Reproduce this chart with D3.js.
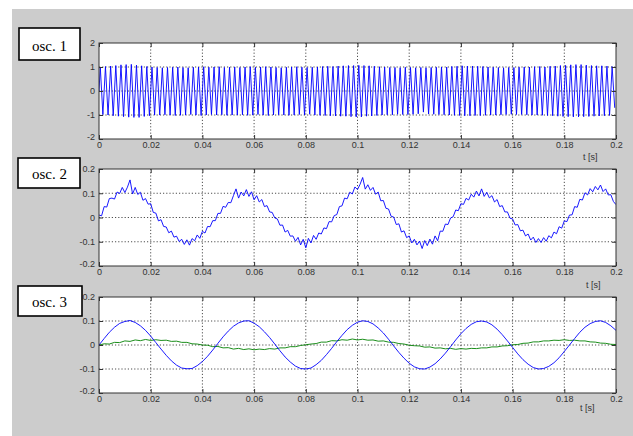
<!DOCTYPE html>
<html>
<head>
<meta charset="utf-8">
<script src="https://cdn.jsdelivr.net/npm/d3@7"></script>
<style>
body { margin: 0; background: #fff; }
svg { display: block; }
.tick text { font-family: "Liberation Sans", Arial, sans-serif; font-size: 9px; fill: #333; }
</style>
</head>
<body>
<svg></svg>
<script>
// time axis (s)
const xTicks = [0, 0.02, 0.04, 0.06, 0.08, 0.1, 0.12, 0.14, 0.16, 0.18, 0.2];
const xTickLabels = ["0", "0.02", "0.04", "0.06", "0.08", "0.1", "0.12", "0.14", "0.16", "0.18", "0.2"];
const y1Ticks = [-2, -1, 0, 1, 2];
const y1TickLabels = ["-2", "-1", "0", "1", "2"];
const y23Ticks = [-0.2, -0.1, 0, 0.1, 0.2];
const y23TickLabels = ["-0.2", "-0.1", "0", "0.1", "0.2"];
const panelNames = ["osc. 1", "osc. 2", "osc. 3"];
const unitLabel = "t [s]";

// osc. 1 : peaks and troughs, one every 0.001 s starting at 0.0005 s
const osc1Start = 0.0005;
const osc1Step = 0.001;
const osc1Extrema = [
  1.0,-0.98,1.02,-1.0,1.04,-1.03,1.06,-1.05,1.09,-1.07,1.1,-1.09,1.11,-1.1,1.08,-1.1,1.05,-1.06,1.02,-1.03,
  1.0,-1.0,0.98,-1.0,0.97,-0.99,0.98,-1.0,0.99,-1.02,1.0,-1.01,0.98,-1.0,0.97,-0.98,0.99,-1.0,1.0,-1.02,
  1.01,-1.0,0.99,-0.98,1.0,-1.0,1.01,-0.99,0.98,-1.01,0.99,-1.0,1.0,-1.0,0.98,-0.99,1.0,-1.01,1.01,-1.0,
  0.99,-0.98,1.0,-1.0,1.01,-1.02,1.0,-1.0,0.98,-0.99,0.97,-1.0,0.99,-1.01,1.0,-1.0,1.01,-0.98,0.99,-1.0,
  0.98,-0.97,0.99,-1.0,1.0,-1.01,1.02,-1.02,1.03,-1.03,1.02,-1.04,1.04,-1.05,1.05,-1.05,1.06,-1.07,1.06,-1.08,
  1.07,-1.08,1.06,-1.05,1.05,-1.04,1.03,-1.02,1.01,-1.0,1.0,-0.99,0.98,-0.99,0.98,-0.97,0.97,-0.98,0.99,-0.98,
  0.98,-0.97,0.97,-0.95,0.98,-0.88,0.97,-0.96,0.98,-0.97,0.99,-0.98,1.0,-0.99,1.0,-1.0,1.02,-1.01,1.03,-1.02,
  1.05,-1.03,1.04,-1.03,1.04,-1.02,1.03,-1.02,1.02,-1.01,1.0,-1.0,0.99,-1.0,0.98,-0.99,0.97,-0.98,0.98,-0.97,
  0.98,-0.98,0.99,-0.98,1.0,-0.99,1.0,-1.0,1.01,-1.0,1.02,-1.01,1.0,-1.02,1.03,-1.03,1.04,-1.05,1.06,-1.06,
  1.07,-1.07,1.09,-1.08,1.1,-1.08,1.1,-1.07,1.08,-1.06,1.06,-1.05,1.05,-1.04,1.05,-1.03,1.04,-1.02,1.02,-0.7
];

// osc. 2 : sampled every 0.001 s
const osc2Step = 0.001;
const osc2 = [
  0.010,0.007,0.045,0.043,0.078,0.080,0.076,0.105,0.099,0.124,0.103,0.125,0.155,0.097,0.124,0.095,0.104,0.071,0.078,0.055,0.057,0.021,0.018,
  -0.014,-0.009,-0.037,-0.039,-0.063,-0.056,-0.081,-0.077,-0.099,-0.090,-0.111,-0.092,-0.114,-0.087,-0.096,-0.072,-0.086,-0.057,-0.064,-0.037,-0.038,-0.013,-0.013,
  0.017,0.017,0.046,0.042,0.062,0.061,0.090,0.118,0.080,0.105,0.089,0.115,0.087,0.106,0.073,0.090,0.064,0.074,0.045,0.049,0.023,0.021,-0.002,
  -0.006,-0.032,-0.031,-0.060,-0.053,-0.077,-0.076,-0.098,-0.082,-0.113,-0.090,-0.125,-0.086,-0.105,-0.074,-0.090,-0.064,-0.068,-0.043,-0.046,-0.017,-0.018,
  0.008,0.012,0.045,0.048,0.080,0.077,0.104,0.097,0.126,0.115,0.137,0.165,0.117,0.135,0.112,0.124,0.096,0.105,0.069,0.070,0.038,0.035,0.005,
  0.002,-0.029,-0.026,-0.060,-0.055,-0.083,-0.076,-0.105,-0.090,-0.113,-0.097,-0.128,-0.095,-0.116,-0.089,-0.110,-0.076,-0.096,-0.056,-0.057,-0.027,-0.029,-0.002,
  0.003,0.031,0.028,0.057,0.054,0.079,0.072,0.096,0.084,0.109,0.089,0.118,0.087,0.104,0.081,0.090,0.064,0.074,0.045,0.049,0.023,0.023,
  -0.003,-0.006,-0.031,-0.029,-0.055,-0.052,-0.076,-0.068,-0.093,-0.081,-0.103,-0.087,-0.103,-0.083,-0.098,-0.075,-0.084,-0.060,-0.067,-0.038,-0.044,-0.014,-0.017,
  0.010,0.011,0.045,0.042,0.075,0.072,0.102,0.093,0.119,0.106,0.128,0.114,0.134,0.107,0.118,0.093,0.094,0.066,0.053
];

// osc. 3 : two signals sampled every 0.002 s
const osc3Step = 0.002;
const osc3Blue = [
  0,0.027,0.053,0.074,0.090,0.098,0.102,0.094,0.080,0.061,
  0.037,0.010,-0.017,-0.043,-0.066,-0.084,-0.096,-0.099,-0.098,-0.086,
  -0.069,-0.047,-0.021,0.007,0.034,0.058,0.078,0.092,0.100,0.101,
  0.091,0.076,0.055,0.031,0.004,-0.024,-0.050,-0.071,-0.088,-0.098,
  -0.100,-0.096,-0.082,-0.064,-0.040,-0.014,0.014,0.040,0.064,0.082,
  0.095,0.101,0.098,0.088,0.071,0.050,0.024,-0.004,-0.031,-0.055,
  -0.076,-0.091,-0.099,-0.100,-0.092,-0.078,-0.058,-0.034,-0.007,0.021,
  0.047,0.069,0.086,0.097,0.100,0.096,0.084,0.066,0.043,0.017,
  -0.010,-0.037,-0.061,-0.080,-0.094,-0.100,-0.098,-0.089,-0.074,-0.053,
  -0.027,0,0.027,0.053,0.074,0.089,0.098,0.101,0.094,0.080,
  0.061
];
const osc3Green = [
  0.000,0.005,0.004,0.011,0.010,0.017,0.015,0.021,0.018,0.023,0.019,0.022,0.019,0.020,0.015,0.016,0.011,0.011,0.005,0.004,0.000,
  -0.001,-0.007,-0.006,-0.012,-0.011,-0.017,-0.014,-0.019,-0.016,-0.020,-0.017,-0.019,-0.015,-0.017,-0.012,-0.012,-0.007,-0.007,-0.002,0.001,
  0.004,0.006,0.012,0.012,0.018,0.017,0.022,0.020,0.025,0.021,0.024,0.020,0.021,0.016,0.017,0.012,0.011,0.006,0.004,-0.001,
  -0.003,-0.004,-0.009,-0.008,-0.013,-0.012,-0.016,-0.014,-0.018,-0.015,-0.017,-0.014,-0.015,-0.012,-0.012,-0.008,-0.008,-0.004,-0.003,0.001,
  0.002,0.007,0.008,0.013,0.013,0.017,0.017,0.020,0.019,0.022,0.019,0.020,0.017,0.017,0.013,0.012,0.008,0.007,0.003,0.002
];

const width = 633;
const height = 436;
const svg = d3.select("svg")
    .attr("width", width)
    .attr("height", height);

// figure background
svg.append("rect")
    .attr("x", 12).attr("y", 9)
    .attr("width", width - 12).attr("height", height - 9)
    .attr("fill", "#cccccc");

const x = d3.scaleLinear().domain([0, 0.2]).range([99, 616]);

const osc1Points = [[0, 0]].concat(osc1Extrema.map((v, i) => [osc1Start + i * osc1Step, v]));
const osc2Points = osc2.map((v, i) => [i * osc2Step, v]);
const osc3BluePoints = osc3Blue.map((v, i) => [i * osc3Step, v]);
const osc3GreenPoints = osc3Green.map((v, i) => [i * osc3Step, v]);

const panels = [
  { top: 43, bottom: 139, domain: [-2, 2], ticks: y1Ticks, labels: y1TickLabels,
    box: [19, 28, 61, 32], textY: 51, unit: [583, 160],
    series: [{ pts: osc1Points, color: "#0000ff" }] },
  { top: 169, bottom: 266, domain: [-0.2, 0.2], ticks: y23Ticks, labels: y23TickLabels,
    box: [18, 158, 62, 30], textY: 179, unit: [586, 288],
    series: [{ pts: osc2Points, color: "#0000ff" }] },
  { top: 297, bottom: 393, domain: [-0.2, 0.2], ticks: y23Ticks, labels: y23TickLabels,
    box: [18, 286, 64, 30], textY: 307, unit: [580, 411],
    series: [{ pts: osc3GreenPoints, color: "#008000" }, { pts: osc3BluePoints, color: "#0000ff" }] }
];

panels.forEach((p, pi) => {
    const y = d3.scaleLinear().domain(p.domain).range([p.bottom, p.top]);
    const g = svg.append("g");
    const left = x.range()[0], right = x.range()[1];

    g.append("rect")
        .attr("x", left).attr("y", p.top)
        .attr("width", right - left).attr("height", p.bottom - p.top)
        .attr("fill", "#fff");

    // dotted grid
    g.selectAll(".vgrid")
        .data(xTicks.slice(1, -1))
        .join("line")
        .attr("x1", d => x(d)).attr("x2", d => x(d))
        .attr("y1", p.top).attr("y2", p.bottom)
        .attr("stroke", "#222").attr("stroke-width", 0.8)
        .attr("stroke-dasharray", "1.2,2");
    g.selectAll(".hgrid")
        .data(p.ticks.slice(1, -1))
        .join("line")
        .attr("x1", left).attr("x2", right)
        .attr("y1", d => y(d)).attr("y2", d => y(d))
        .attr("stroke", "#222").attr("stroke-width", 0.8)
        .attr("stroke-dasharray", "1.2,2");

    const clipId = "clip" + pi;
    svg.append("clipPath").attr("id", clipId)
        .append("rect")
        .attr("x", left).attr("y", p.top)
        .attr("width", right - left).attr("height", p.bottom - p.top);

    const line = d3.line().x(d => x(d[0])).y(d => y(d[1]));
    p.series.forEach(s => {
        g.append("path")
            .attr("clip-path", `url(#${clipId})`)
            .attr("d", line(s.pts))
            .attr("fill", "none")
            .attr("stroke", s.color)
            .attr("stroke-width", 0.9);
    });

    // axes with inward ticks
    const xa = g.append("g")
        .attr("transform", `translate(0,${p.bottom})`)
        .call(d3.axisBottom(x).tickValues(xTicks).tickFormat((d, i) => xTickLabels[i]).tickSize(-4).tickPadding(3));
    const xt = g.append("g")
        .attr("transform", `translate(0,${p.top})`)
        .call(d3.axisTop(x).tickValues(xTicks).tickFormat("").tickSize(-4));
    const ya = g.append("g")
        .attr("transform", `translate(${left},0)`)
        .call(d3.axisLeft(y).tickValues(p.ticks).tickFormat((d, i) => p.labels[i]).tickSize(-4).tickPadding(4));
    const yr = g.append("g")
        .attr("transform", `translate(${right},0)`)
        .call(d3.axisRight(y).tickValues(p.ticks).tickFormat("").tickSize(-4));
    [xa, xt, ya, yr].forEach(a => {
        a.select(".domain").remove();
        a.selectAll(".tick line").attr("stroke", "#333");
    });
    ya.selectAll(".tick text").filter((d, i) => i === 0).attr("dy", "0.0em");

    g.append("rect")
        .attr("x", left).attr("y", p.top)
        .attr("width", right - left).attr("height", p.bottom - p.top)
        .attr("fill", "none").attr("stroke", "#333").attr("stroke-width", 1);

    g.append("text")
        .attr("x", p.unit[0]).attr("y", p.unit[1])
        .style("font-family", "'Liberation Sans', Arial, sans-serif")
        .style("font-size", "9px")
        .attr("fill", "#333")
        .text(unitLabel);

    // name box
    g.append("rect")
        .attr("x", p.box[0]).attr("y", p.box[1])
        .attr("width", p.box[2]).attr("height", p.box[3])
        .attr("fill", "#fff").attr("stroke", "#000").attr("stroke-width", 1.6);
    g.append("text")
        .attr("x", 32).attr("y", p.textY)
        .style("font-family", "'Liberation Serif', 'Times New Roman', serif")
        .style("font-size", "15px")
        .attr("fill", "#000")
        .text(panelNames[pi]);
});
</script>
</body>
</html>
